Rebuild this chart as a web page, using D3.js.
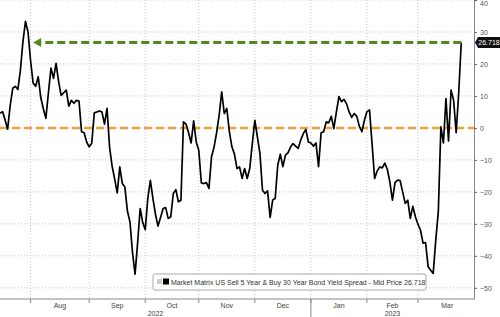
<!DOCTYPE html>
<html><head><meta charset="utf-8">
<script src="https://cdn.jsdelivr.net/npm/d3@7"></script>
<style>
html,body{margin:0;padding:0;background:#fff;}
svg{display:block;font-family:"Liberation Sans",Arial,sans-serif;}
</style></head>
<body><svg id="c" width="500" height="317"></svg>
<script>
// ---- data ----
const firstDate = "2022-07-14";   // first trading day shown
const lastAxisDate = "2023-03-31"; // end of x-axis domain
const spreadValues = [
 4.6,5.1,2.5,-0.4,7,12.4,13,12,18,27,33.3,30,
 21,14,13,16,9.5,6,3,11,18.7,15.5,20.2,14.5,10.2,11,11.8,6.8,8.6,7.7,8.6,8.4,-1.2,-1.5,-4.4,
 -5.9,-4.8,4.7,5.0,5.3,5.0,1.2,6.1,-6,-12,-16,-20.3,-12.2,-17.4,-18.5,-26,-29.4,-39,-45.7,-36,-25.2,-29.6,
 -31.8,-22,-16.4,-22,-27,-30.7,-28,-25.2,-24.9,-28.3,-27.8,-20.5,-19.3,-23.1,-22.6,1.9,1.2,-1.5,-4.7,2.2,
 -4.4,-7,-17.2,-17.4,-17.1,-18.9,-9,-6,-1.5,4,11.3,4.5,6.1,-1.2,-5.9,-8.2,-12.7,-12.2,-15.8,-12.7,-15.8,-12.7,-5,
 2.4,-2.8,-8,-19.5,-20.5,-19.7,-28,-22.6,-22,-11.6,-8.2,-12.1,-8.5,-7.8,-6,-4.9,-5.7,-6.4,-3.8,-1.8,-0.5,-4.4,
 -4.7,-5.7,-4.7,-12.1,-1.5,-1.2,1.9,1.6,3.6,-0.2,5,9.8,8.2,8.9,7.5,5,3.3,4.5,3.6,0.5,-1.2,2.4,
 5.1,5.6,-5,-15.8,-13.5,-12.2,-12.5,-11,-13,-17,-22.6,-17.1,-16.3,-16.5,-20,-23.6,-22.6,-28.3,-24.5,-27.8,
 -30.1,-32,-36,-35.9,-43.4,-44.5,-45.5,-35,-26.2,0.3,-4.7,9.2,-4.1,11.8,8.7,-1.5,11,26.718
];
const yTicks = [-50,-40,-30,-20,-10,0,10,20,30,40];
const monthLabels = ["Aug","Sep","Oct","Nov","Dec","Jan","Feb","Mar"];
const monthStarts = ["2022-08","2022-09","2022-10","2022-11","2022-12","2023-01","2023-02","2023-03","2023-04"];
const yearLabels = ["2022","2023"];
const lastValue = 26.718;
const legendText = "Market Matrix US Sell 5 Year & Buy 30 Year Bond Yield Spread - Mid Price " + lastValue;

// ---- calendar of trading days (weekdays) ----
const parse = d3.timeParse("%Y-%m-%d");
const fmt = d3.timeFormat("%Y-%m-%d");
const allDays = d3.timeDay.range(parse(firstDate), d3.timeDay.offset(parse(lastAxisDate), 1))
  .filter(d => d.getDay() !== 0 && d.getDay() !== 6).map(fmt);
const data = spreadValues.map((v, i) => ({date: allDays[i], value: v}));

// ---- layout ----
const W = 500, H = 317;
const plotR = 474, plotB = 299;
const svg = d3.select("#c");

const x = d3.scalePoint().domain(allDays).range([0, plotR]);
const y = d3.scaleLinear().domain([-53.5, 40]).range([plotB, 0]);
const step = x.step();

// first trading day of each month
const firstOfMonth = m => allDays.find(d => d.startsWith(m));
const monthX = monthStarts.map(m => {
  const d = firstOfMonth(m);
  return d ? x(d) : x(allDays[allDays.length-1]) + step;
});

// grid
const grid = svg.append("g");
grid.selectAll(".hg").data(yTicks).join("line")
  .attr("x1", 0).attr("x2", plotR).attr("y1", d => y(d)).attr("y2", d => y(d))
  .attr("stroke", "#c4c4c4").attr("stroke-width", 1).attr("stroke-dasharray", "1,2");
grid.selectAll(".vg").data(monthX.slice(0, 8)).join("line")
  .attr("x1", d => d).attr("x2", d => d).attr("y1", 0).attr("y2", plotB)
  .attr("stroke", "#c4c4c4").attr("stroke-width", 1).attr("stroke-dasharray", "1,2");

// zero reference line (orange dashed)
svg.append("line").attr("x1", 0).attr("x2", plotR).attr("y1", y(0)).attr("y2", y(0))
  .attr("stroke", "#eea23a").attr("stroke-width", 2.5).attr("stroke-dasharray", "8,4");

// series line
svg.append("path").datum(data)
  .attr("fill", "none").attr("stroke", "#000").attr("stroke-width", 1.7)
  .attr("stroke-linejoin", "round")
  .attr("d", d3.line().x(d => x(d.date)).y(d => y(d.value)));

// green dashed arrow from last value back to prior peak
const lastPt = data[data.length - 1];
const arrowDate = allDays[13];
const ay = y(lastValue);
svg.append("line").attr("x1", x(lastPt.date)).attr("x2", x(arrowDate) + 5)
  .attr("y1", ay).attr("y2", ay)
  .attr("stroke", "#4e8a1c").attr("stroke-width", 3).attr("stroke-dasharray", "8,4");
const ax0 = x(arrowDate);
svg.append("path")
  .attr("d", `M${ax0},${ay} L${ax0+8},${ay-4.5} L${ax0+8},${ay+4.5} Z`)
  .attr("fill", "#4e8a1c");

// right axis
const yAxis = svg.append("g").attr("transform", `translate(${plotR},0)`)
  .call(d3.axisRight(y).tickValues(yTicks).tickSize(3).tickPadding(3).tickSizeOuter(0));
yAxis.select(".domain").attr("stroke", "#888");
yAxis.selectAll(".tick line").attr("stroke", "#666");
yAxis.selectAll(".tick text").attr("fill", "#555").attr("font-size", 7)
  .attr("font-family", "Liberation Sans, Arial, sans-serif")
  .attr("dy", d => d === 40 ? "0.85em" : "0.32em");

// bottom axis
svg.append("line").attr("x1", 0).attr("x2", plotR).attr("y1", plotB).attr("y2", plotB)
  .attr("stroke", "#888");
svg.selectAll(".mt").data(monthX.slice(0, 8)).join("line")
  .attr("x1", d => d).attr("x2", d => d).attr("y1", plotB).attr("y2", plotB + 4)
  .attr("stroke", "#888");
svg.selectAll(".ml").data(monthLabels).join("text")
  .attr("x", (d, i) => (monthX[i] + monthX[i+1]) / 2).attr("y", plotB + 8.5)
  .attr("text-anchor", "middle").attr("font-size", 7).attr("fill", "#444").text(d => d);
// year separator and labels
const janX = monthX[5];
svg.append("line").attr("x1", janX).attr("x2", janX).attr("y1", plotB).attr("y2", H)
  .attr("stroke", "#888");
svg.selectAll(".yl").data(yearLabels).join("text")
  .attr("x", (d, i) => i === 0 ? janX / 2 : (janX + plotR) / 2).attr("y", plotB + 16.5)
  .attr("text-anchor", "middle").attr("font-size", 7).attr("fill", "#444").text(d => d);

// legend
const lg = svg.append("g").attr("transform", "translate(153,274)");
lg.append("rect").attr("x", 0).attr("y", 0).attr("width", 273).attr("height", 16).attr("rx", 2)
  .attr("fill", "#fff").attr("stroke", "#aaa").attr("stroke-width", 1);
lg.append("rect").attr("x", 4).attr("y", 5).attr("width", 5).attr("height", 5).attr("fill", "#ccc");
lg.append("rect").attr("x", 10).attr("y", 4.5).attr("width", 6).attr("height", 6).attr("fill", "#000");
lg.append("text").attr("x", 18).attr("y", 10.5).attr("font-size", 7).attr("fill", "#333").text(legendText);

// last value tag
const tag = svg.append("g").attr("transform", `translate(${plotR + 1},${ay})`);
tag.append("path").attr("d", "M0,0 L3,-5.5 L25,-5.5 L25,5.5 L3,5.5 Z").attr("fill", "#111");
tag.append("text").attr("x", 14).attr("y", 2.5).attr("text-anchor", "middle")
  .attr("font-size", 7).attr("fill", "#fff").text(lastValue);
</script></body></html>
